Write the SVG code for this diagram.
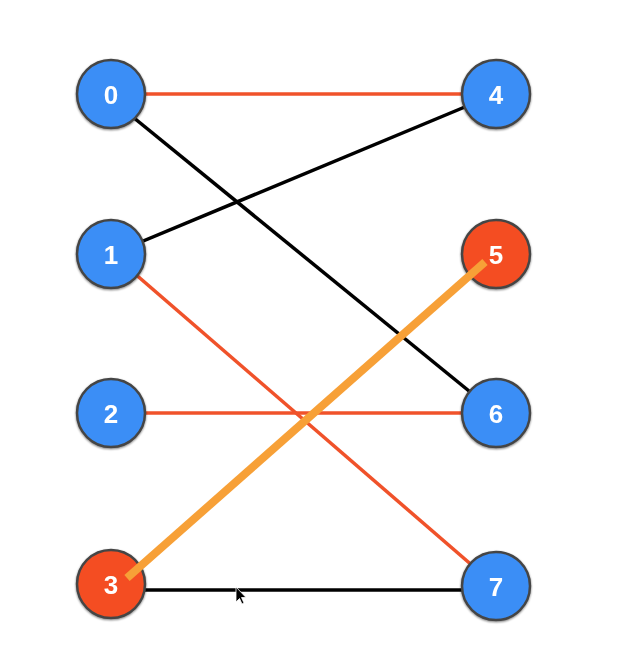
<svg xmlns="http://www.w3.org/2000/svg" width="643" height="671" viewBox="0 0 643 671">
<defs>
<style>
.n circle{stroke:#454545;stroke-width:2.5}
.blue{fill:#3a8ef6}
.red{fill:#f44e22}
.n text{font-family:"Liberation Sans",Arial,sans-serif;font-weight:bold;font-size:26px;fill:#fff;text-anchor:middle}
.e{stroke-width:3.5;fill:none}
.r{stroke:#f0522a}
.k{stroke:#000}
</style>
<filter id="sh" x="-20%" y="-20%" width="140%" height="140%">
<feGaussianBlur in="SourceAlpha" stdDeviation="1.2"/>
<feOffset dx="0" dy="1"/>
<feComponentTransfer><feFuncA type="linear" slope="0.5"/></feComponentTransfer>
<feMerge><feMergeNode/><feMergeNode in="SourceGraphic"/></feMerge>
</filter>
</defs>
<rect width="643" height="671" fill="#fff"/>
<g id="edges">
<line class="e r" x1="112" y1="94" x2="496" y2="94"/>
<line class="e k" x1="112" y1="100" x2="496" y2="413"/>
<line class="e k" x1="112" y1="254" x2="496" y2="94"/>
<line class="e r" x1="112" y1="254" x2="496" y2="586"/>
<line class="e r" x1="112" y1="413" x2="496" y2="413"/>
<line class="e k" x1="112" y1="590" x2="496" y2="590"/>
</g>
<g id="node0" class="n" filter="url(#sh)"><circle class="blue" cx="111" cy="94" r="34"/><text x="111" y="103.5">0</text></g>
<g id="node1" class="n" filter="url(#sh)"><circle class="blue" cx="111" cy="254" r="34"/><text x="111" y="263.5">1</text></g>
<g id="node2" class="n" filter="url(#sh)"><circle class="blue" cx="111" cy="413" r="34"/><text x="111" y="422.5">2</text></g>
<g id="node3" class="n" filter="url(#sh)"><circle class="red" cx="111" cy="584" r="34"/><text x="111" y="593.5">3</text></g>
<g id="node4" class="n" filter="url(#sh)"><circle class="blue" cx="496" cy="94" r="34"/><text x="496" y="103.5">4</text></g>
<g id="node5" class="n" filter="url(#sh)"><circle class="red" cx="496" cy="254" r="34"/><text x="496" y="263.5">5</text></g>
<g id="node6" class="n" filter="url(#sh)"><circle class="blue" cx="496" cy="413" r="34"/><text x="496" y="422.5">6</text></g>
<g id="node7" class="n" filter="url(#sh)"><circle class="blue" cx="496" cy="586" r="34"/><text x="496" y="595.5">7</text></g>
<g id="highlight">
<line x1="127" y1="578" x2="485" y2="262" stroke="#f7a037" stroke-width="8"/>
</g>
<g id="cursor">
<polygon points="236,587 236,602 239.5,598.5 242,604 244,603 241.5,597.5 246,597.5" fill="#000" stroke="#fff" stroke-width="0.8"/>
</g>
</svg>
